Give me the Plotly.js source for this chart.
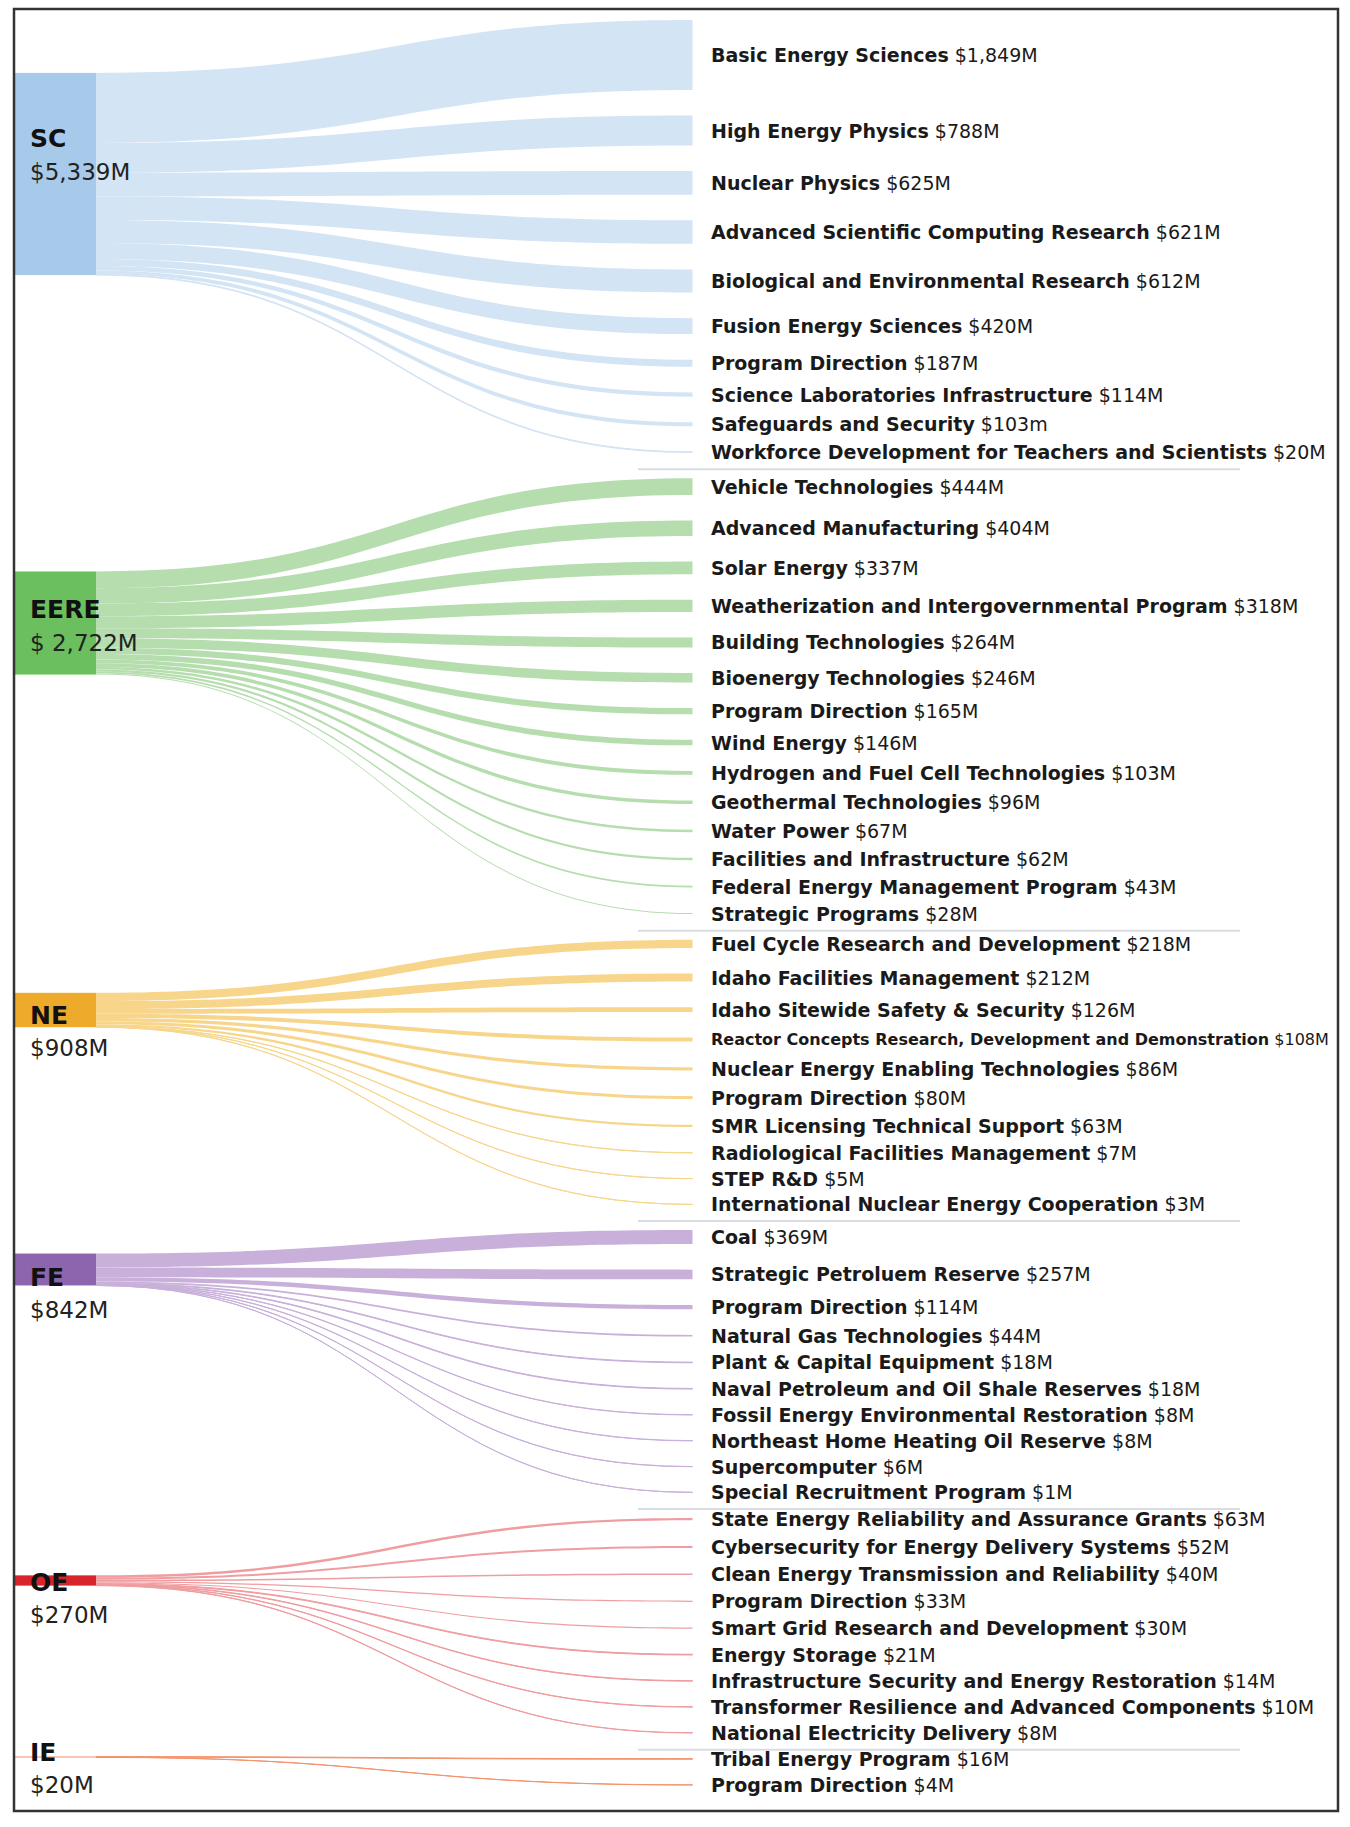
<!DOCTYPE html>
<html><head><meta charset="utf-8">
<script src="https://cdn.plot.ly/plotly-3.0.1.min.js"></script>
<style>html,body{margin:0;padding:0;background:#fff}#chart{width:1350px;height:1827px}</style>
</head><body><div id="chart"></div>
<script>
// ---------------- DATA ----------------
const offices = ['SC', 'EERE', 'NE', 'FE', 'OE', 'IE'];
const officeTotals = ['$5,339M', '$ 2,722M', '$908M', '$842M', '$270M', '$20M'];

const scPrograms = ['Basic Energy Sciences', 'High Energy Physics', 'Nuclear Physics', 'Advanced Scientific Computing Research',
  'Biological and Environmental Research', 'Fusion Energy Sciences', 'Program Direction', 'Science Laboratories Infrastructure',
  'Safeguards and Security', 'Workforce Development for Teachers and Scientists'];
const scValues = [1849, 788, 625, 621, 612, 420, 187, 114, 103, 20];
const scValueLabels = ['$1,849M', '$788M', '$625M', '$621M', '$612M', '$420M', '$187M', '$114M', '$103m', '$20M'];

const eerePrograms = ['Vehicle Technologies', 'Advanced Manufacturing', 'Solar Energy', 'Weatherization and Intergovernmental Program',
  'Building Technologies', 'Bioenergy Technologies', 'Program Direction', 'Wind Energy', 'Hydrogen and Fuel Cell Technologies',
  'Geothermal Technologies', 'Water Power', 'Facilities and Infrastructure', 'Federal Energy Management Program', 'Strategic Programs'];
const eereValues = [444, 404, 337, 318, 264, 246, 165, 146, 103, 96, 67, 62, 43, 28];
const eereValueLabels = ['$444M', '$404M', '$337M', '$318M', '$264M', '$246M', '$165M', '$146M', '$103M', '$96M', '$67M', '$62M', '$43M', '$28M'];

const nePrograms = ['Fuel Cycle Research and Development', 'Idaho Facilities Management', 'Idaho Sitewide Safety & Security',
  'Reactor Concepts Research, Development and Demonstration', 'Nuclear Energy Enabling Technologies', 'Program Direction',
  'SMR Licensing Technical Support', 'Radiological Facilities Management', 'STEP R&D', 'International Nuclear Energy Cooperation'];
const neValues = [218, 212, 126, 108, 86, 80, 63, 7, 5, 3];
const neValueLabels = ['$218M', '$212M', '$126M', '$108M', '$86M', '$80M', '$63M', '$7M', '$5M', '$3M'];

const fePrograms = ['Coal', 'Strategic Petroluem Reserve', 'Program Direction', 'Natural Gas Technologies', 'Plant & Capital Equipment',
  'Naval Petroleum and Oil Shale Reserves', 'Fossil Energy Environmental Restoration', 'Northeast Home Heating Oil Reserve',
  'Supercomputer', 'Special Recruitment Program'];
const feValues = [369, 257, 114, 44, 18, 18, 8, 8, 6, 1];
const feValueLabels = ['$369M', '$257M', '$114M', '$44M', '$18M', '$18M', '$8M', '$8M', '$6M', '$1M'];

const oePrograms = ['State Energy Reliability and Assurance Grants', 'Cybersecurity for Energy Delivery Systems',
  'Clean Energy Transmission and Reliability', 'Program Direction', 'Smart Grid Research and Development', 'Energy Storage',
  'Infrastructure Security and Energy Restoration', 'Transformer Resilience and Advanced Components', 'National Electricity Delivery'];
const oeValues = [63, 52, 40, 33, 30, 21, 14, 10, 8];
const oeValueLabels = ['$63M', '$52M', '$40M', '$33M', '$30M', '$21M', '$14M', '$10M', '$8M'];

const iePrograms = ['Tribal Energy Program', 'Program Direction'];
const ieValues = [16, 4];
const ieValueLabels = ['$16M', '$4M'];

// ---------------- STYLE / LAYOUT CONSTANTS ----------------
const nodeColors = ['#a8caea', '#6cbf5f', '#eeaa2b', '#8d65ae', '#d7252b', '#ef6a3a'];
const linkColors = ['#d3e4f5', '#b5ddae', '#f7d68c', '#c8b0da', '#ef9da0', '#f3946d'];
const W = 1350, H = 1827;
const visTop = 20, visBot = 1785, visPad = 25.6;     // visual stacking of right column (px)
const sankeyTop = 20, sankeyH = 1000;                // sankey domain (px)
const nodeThick = 82, leftX0 = 14, rightX0 = 692.5;
const leftNodeCenter = [174, 623, 1010, 1269.5, 1580.5, 1757];   // px, page coords
const leftNameY = [139, 610, 1015, 1277, 1582, 1752];            // px, page coords
const valueDy = 33;
const labelFont = 'DejaVu Sans, Open Sans, sans-serif';
const smallLabels = ['Reactor Concepts Research, Development and Demonstration'];

// ---------------- BUILD ----------------
const groupPrograms = [scPrograms, eerePrograms, nePrograms, fePrograms, oePrograms, iePrograms];
const groupValues = [scValues, eereValues, neValues, feValues, oeValues, ieValues];
const groupValueLabels = [scValueLabels, eereValueLabels, neValueLabels, feValueLabels, oeValueLabels, ieValueLabels];

let nRight = 0, totalRight = 0;
groupValues.forEach(v => { nRight += v.length; totalRight += v.reduce((a, b) => a + b, 0); });
const ky = ((visBot - visTop) - (nRight - 1) * visPad) / totalRight;   // px per $M
const sankeyPad = (sankeyH - ky * totalRight) / (nRight - 1);          // gives the same ky inside plotly

const nodeX = [], nodeY = [], nColors = [], labels = [];
const src = [], tgt = [], val = [], lColors = [];
const annotations = [], shapes = [];

offices.forEach((o, g) => {
  nodeX.push((leftX0 + nodeThick / 2) / W);
  nodeY.push((leftNodeCenter[g] - sankeyTop) / sankeyH);
  nColors.push(nodeColors[g]);
  labels.push('');
  annotations.push({xref: 'paper', yref: 'paper', x: 28 / W, y: 1 - leftNameY[g] / H, xanchor: 'left', yanchor: 'middle',
    text: '<b>' + o + '</b>', showarrow: false, font: {family: labelFont, size: 25, color: '#111'}});
  annotations.push({xref: 'paper', yref: 'paper', x: 28 / W, y: 1 - (leftNameY[g] + valueDy) / H, xanchor: 'left', yanchor: 'middle',
    text: officeTotals[g], showarrow: false, font: {family: labelFont, size: 23, color: '#222'}});
});

let cum = 0, idx = 0;
groupPrograms.forEach((progs, g) => {
  progs.forEach((p, k) => {
    const v = groupValues[g][k];
    const h = v * ky;
    const c = visTop + cum + idx * visPad + h / 2;     // page px
    const nodeIndex = offices.length + idx;
    nodeX.push((rightX0 + nodeThick / 2) / W);
    nodeY.push((c - sankeyTop) / sankeyH);
    nColors.push('rgba(0,0,0,0)');
    labels.push('');
    src.push(g); tgt.push(nodeIndex); val.push(v);
    lColors.push(linkColors[g]);
    const small = smallLabels.indexOf(p) >= 0;
    annotations.push({xref: 'paper', yref: 'paper', x: (rightX0 + 16) / W, y: 1 - c / H,
      xanchor: 'left', yanchor: 'middle', showarrow: false,
      text: '<b>' + p + '</b> ' + groupValueLabels[g][k],
      font: {family: labelFont, size: small ? 16 : 19, color: '#1a1a1a'}});
    cum += h;
    idx++;
    if (k === progs.length - 1 && g < groupPrograms.length - 1) {
      const ys = visTop + cum + (idx - 1) * visPad + 0.65 * visPad;
      shapes.push({type: 'line', xref: 'paper', yref: 'paper', x0: 638 / W, x1: 1240 / W, y0: 1 - ys / H, y1: 1 - ys / H,
        line: {color: '#d9dde2', width: 2}});
    }
  });
});

shapes.push({type: 'rect', xref: 'paper', yref: 'paper', x0: 14 / W, x1: 1338 / W, y0: 1 - 1811 / H, y1: 1 - 9 / H,
  line: {color: '#333', width: 2.5}, fillcolor: 'rgba(0,0,0,0)'});

const trace = {
  type: 'sankey', arrangement: 'fixed', orientation: 'h',
  domain: {x: [0, 1], y: [1 - (sankeyTop + sankeyH) / H, 1 - sankeyTop / H]},
  node: {label: labels, x: nodeX, y: nodeY, color: nColors, pad: sankeyPad, thickness: nodeThick,
    line: {width: 0, color: 'rgba(0,0,0,0)'}, hoverinfo: 'none'},
  link: {source: src, target: tgt, value: val, color: lColors, line: {color: 'rgba(0,0,0,0)', width: 0}, hoverinfo: 'none'},
  textfont: {size: 1, color: 'rgba(0,0,0,0)'}
};

Plotly.newPlot('chart', [trace], {
  width: W, height: H, margin: {l: 0, r: 0, t: 0, b: 0},
  paper_bgcolor: '#fff', plot_bgcolor: '#fff', showlegend: false,
  annotations: annotations, shapes: shapes
}, {displayModeBar: false, staticPlot: true});
</script>
</body></html>
